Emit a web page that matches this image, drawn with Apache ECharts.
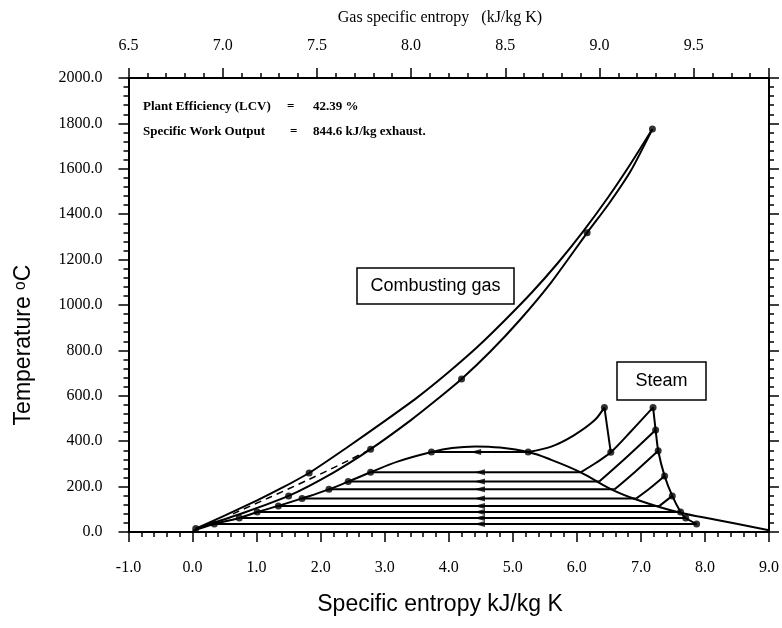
<!DOCTYPE html>
<html>
<head>
<meta charset="utf-8">
<script src="https://cdn.jsdelivr.net/npm/echarts@6/dist/echarts.min.js"></script>
<style>
html, body { margin: 0; padding: 0; background: #fff; }
#chart { width: 782px; height: 628px; }
</style>
</head>
<body>
<div id="chart"></div>
<script>
// ======================
// DATA (x = specific entropy kJ/kg K, y = temperature °C)
// ======================

// combusting gas, two branches meeting at the firing temperature
const gasUpper = [[0.05, 15], [0.5, 72], [1.0, 138], [1.4, 195], [1.82, 260], [2.4, 370], [3.02, 493], [3.5, 591], [4.0, 705], [4.45, 816], [4.88, 934], [5.3, 1056], [5.7, 1184], [6.09, 1321], [6.5, 1479], [6.84, 1622], [7.18, 1775]];
const gasLower = [[0.05, 15], [0.8, 85], [1.50, 159], [2.2, 262], [2.78, 365], [3.41, 493], [3.8, 580], [4.2, 674], [4.65, 795], [5.11, 934], [5.6, 1100], [6.16, 1318], [6.5, 1446], [6.84, 1590], [7.18, 1775]];
const gasDashed = [[0.63, 80], [1.2, 152], [1.82, 232], [2.44, 316], [2.78, 365]];
const gasDots = [[0.05, 15], [1.82, 260], [1.50, 159], [2.78, 365], [4.2, 674], [6.16, 1318], [7.18, 1775]];

// steam saturation dome
const dome = [[0.0, 5], [0.34, 35], [0.73, 62], [1.01, 88], [1.34, 115], [1.71, 148], [2.13, 188], [2.43, 222], [2.78, 263], [3.2, 310], [3.73, 352], [4.05, 370], [4.42, 377], [4.8, 372], [5.24, 352], [5.6, 318], [6.06, 263], [6.53, 189], [6.95, 141], [7.57, 88], [8.19, 53], [9.0, 8]];

// feed heating levels: temperature, liquid side, bleed side
const heaterTemps = [263, 222, 188, 148, 115, 88, 62, 35];
const heaterLeft = [2.78, 2.43, 2.13, 1.71, 1.34, 1.01, 0.73, 0.34];
const heaterRight = [6.06, 6.35, 6.59, 6.93, 7.29, 7.62, 7.70, 7.87];
const arrowX = 4.48;

// boiler / turbine path
const evaporation = [[3.73, 352], [5.24, 352]];
const superheat = [[5.24, 352], [5.6, 376], [5.96, 427], [6.28, 493], [6.43, 549]];
const hpExpansion = [[6.43, 549], [6.53, 351]];
const reheat = [[6.06, 263], [6.30, 305], [6.53, 351], [6.85, 445], [7.19, 549]];
const lpExpansion = [[7.19, 549], [7.23, 449], [7.27, 358], [7.37, 247], [7.49, 159], [7.62, 88], [7.70, 62], [7.87, 35]];
const bleed1 = [[6.35, 222], [6.78, 330], [7.23, 449]];
const bleed2 = [[6.59, 188], [6.92, 268], [7.27, 358]];
const bleed3 = [[6.93, 148], [7.15, 195], [7.37, 247]];
const bleed4 = [[7.29, 115], [7.49, 159]];
const steamDots = [[3.73, 352], [5.24, 352], [6.43, 549], [6.53, 351], [7.19, 549], [7.23, 449], [7.27, 358], [7.37, 247], [7.49, 159], [7.62, 88], [7.70, 62], [7.87, 35]];

// ======================
// CHART
// ======================

const chart = echarts.init(document.getElementById('chart'));

const serif = '"Liberation Serif", "Times New Roman", serif';
const sans = '"Liberation Sans", Arial, sans-serif';

const lineStyle = { color: '#000', width: 2 };

function curve(data, extra) {
    return Object.assign({
        type: 'line',
        data: data,
        showSymbol: false,
        smooth: 0.3,
        lineStyle: lineStyle,
        silent: true,
        z: 3
    }, extra || {});
}

function axisCommon(extra) {
    return Object.assign({
        type: 'value',
        axisLine: { show: true, onZero: false, lineStyle: { color: '#000', width: 2 } },
        axisTick: { show: true, inside: false, length: 10, lineStyle: { color: '#000', width: 1.5 } },
        minorTick: { show: true, splitNumber: 5, length: 5, lineStyle: { color: '#000', width: 1.5 } },
        splitLine: { show: false },
        axisLabel: { color: '#000', fontFamily: serif, fontSize: 16 }
    }, extra);
}

const heaterLines = heaterTemps.map((t, i) => curve([[heaterLeft[i], t], [heaterRight[i], t]], { smooth: false }));
const liquidDots = heaterTemps.map((t, i) => [heaterLeft[i], t]);
const arrowData = heaterTemps.map(t => [arrowX, t]);

const option = {
    animation: false,
    backgroundColor: '#fff',
    grid: { left: 128.5, right: 10.5, top: 78, bottom: 96 },
    xAxis: [
        axisCommon({
            position: 'bottom', min: -1, max: 9, interval: 1,
            axisLabel: { color: '#000', fontFamily: serif, fontSize: 16, margin: 28, formatter: v => v.toFixed(1) }
        }),
        axisCommon({
            position: 'top', min: 6.5, max: 9.9, interval: 0.5,
            axisLabel: {
                color: '#000', fontFamily: serif, fontSize: 16, margin: 24, showMaxLabel: false,
                formatter: v => (Math.abs(v * 2 - Math.round(v * 2)) < 1e-6 ? v.toFixed(1) : '')
            }
        })
    ],
    yAxis: [
        axisCommon({
            position: 'left', min: 0, max: 2000, interval: 200,
            axisLabel: { color: '#000', fontFamily: serif, fontSize: 16, margin: 26, formatter: v => v.toFixed(1) }
        }),
        axisCommon({
            position: 'right', min: 0, max: 2000, interval: 200,
            axisLabel: { show: false }
        })
    ],
    graphic: [
        { type: 'text', x: 440, y: 18, style: { text: 'Gas specific entropy   (kJ/kg K)', font: '16px ' + serif, fill: '#000', align: 'center', verticalAlign: 'middle', textAlign: 'center', textVerticalAlign: 'middle' } },
        { type: 'text', x: 440, y: 605, style: { text: 'Specific entropy kJ/kg K', font: '23px ' + sans, fill: '#000', align: 'center', verticalAlign: 'middle', textAlign: 'center', textVerticalAlign: 'middle' } },
        {
            type: 'text', x: 24, y: 345, rotation: Math.PI / 2,
            style: { text: 'Temperature ᵒC', font: '23px ' + sans, fill: '#000', align: 'center', verticalAlign: 'middle', textAlign: 'center', textVerticalAlign: 'middle' }
        },
        { type: 'text', x: 143, y: 107, style: { text: 'Plant Efficiency (LCV)', font: 'bold 13px ' + serif, fill: '#000', verticalAlign: 'middle', textVerticalAlign: 'middle' } },
        { type: 'text', x: 287, y: 107, style: { text: '=', font: 'bold 13px ' + serif, fill: '#000', verticalAlign: 'middle', textVerticalAlign: 'middle' } },
        { type: 'text', x: 313, y: 107, style: { text: '42.39 %', font: 'bold 13px ' + serif, fill: '#000', verticalAlign: 'middle', textVerticalAlign: 'middle' } },
        { type: 'text', x: 143, y: 132, style: { text: 'Specific Work Output', font: 'bold 13px ' + serif, fill: '#000', verticalAlign: 'middle', textVerticalAlign: 'middle' } },
        { type: 'text', x: 290, y: 132, style: { text: '=', font: 'bold 13px ' + serif, fill: '#000', verticalAlign: 'middle', textVerticalAlign: 'middle' } },
        { type: 'text', x: 313, y: 132, style: { text: '844.6 kJ/kg exhaust.', font: 'bold 13px ' + serif, fill: '#000', verticalAlign: 'middle', textVerticalAlign: 'middle' } },
        { type: 'rect', shape: { x: 357, y: 268, width: 157, height: 36 }, style: { fill: '#fff', stroke: '#000', lineWidth: 1.5 }, z: 10 },
        { type: 'text', x: 435.5, y: 286, z: 11, style: { text: 'Combusting gas', font: '18px ' + sans, fill: '#000', align: 'center', verticalAlign: 'middle', textAlign: 'center', textVerticalAlign: 'middle' } },
        { type: 'rect', shape: { x: 617, y: 362, width: 89, height: 38 }, style: { fill: '#fff', stroke: '#000', lineWidth: 1.5 }, z: 10 },
        { type: 'text', x: 661.5, y: 381, z: 11, style: { text: 'Steam', font: '18px ' + sans, fill: '#000', align: 'center', verticalAlign: 'middle', textAlign: 'center', textVerticalAlign: 'middle' } }
    ],
    series: [
        curve(gasUpper, { smooth: 0.2 }),
        curve(gasLower, { smooth: 0.2 }),
        curve(gasDashed, { lineStyle: { color: '#000', width: 1.5, type: [7, 5] } }),
        curve(dome, { smooth: 0.4 }),
        curve(evaporation, { smooth: false }),
        curve(superheat),
        curve(hpExpansion, { smooth: false }),
        curve(reheat),
        curve(lpExpansion, { smooth: 0.2 }),
        curve(bleed1),
        curve(bleed2),
        curve(bleed3),
        curve(bleed4, { smooth: false }),
        ...heaterLines,
        {
            type: 'scatter', data: arrowData, symbol: 'triangle', symbolRotate: 90, symbolSize: [6, 11],
            itemStyle: { color: '#000' }, silent: true, z: 5
        },
        {
            type: 'scatter', data: [[4.42, 352]], symbol: 'triangle', symbolRotate: 90, symbolSize: [6, 11],
            itemStyle: { color: '#000' }, silent: true, z: 5
        },
        {
            type: 'scatter', data: gasDots.concat(liquidDots, steamDots), symbol: 'circle', symbolSize: 7,
            itemStyle: { color: '#000' }, silent: true, z: 6
        }
    ]
};

chart.setOption(option);
</script>
</body>
</html>
